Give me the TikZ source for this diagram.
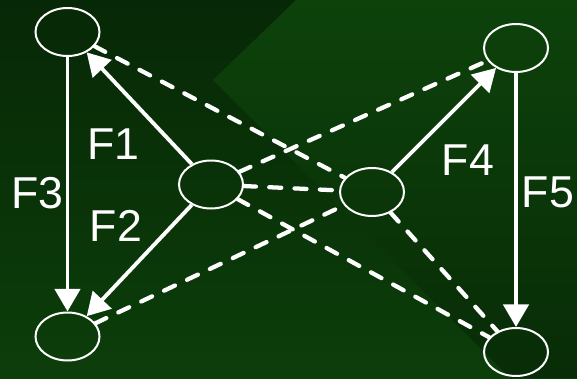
\documentclass[tikz,border=0pt]{standalone}
\usepackage{fontspec}
\setmainfont{Liberation Sans}
\usetikzlibrary{arrows.meta,shapes.geometric}
\definecolor{bgtopleft}{RGB}{7,40,6}
\definecolor{bgbotleft}{RGB}{12,62,10}
\definecolor{bgtopright}{RGB}{13,66,11}
\definecolor{bgbotright}{RGB}{8,44,7}
\begin{document}
\begin{tikzpicture}[x=0.75pt,y=-0.75pt,
    state/.style={draw=white, line width=1.5pt, ellipse, minimum width=48pt, minimum height=36pt, inner sep=0pt},
    flow/.style={draw=white, line width=2.9pt, -{Triangle[width=19pt,length=17pt]}},
    link/.style={draw=white, line width=3.2pt, dash pattern=on 9pt off 10pt, line cap=round},
    lbl/.style={text=white, font=\fontsize{33.5}{40}\selectfont, inner sep=0pt}]
				\useasboundingbox (0,0) rectangle (577,378);
				\shade[top color=bgtopleft, bottom color=bgbotleft] (0,0) rectangle (577,378);
				\shade[top color=bgtopright, bottom color=bgbotright] (213,80)--(296,0)--(577,0)--(577,378)--(510,378)--cycle;

				\node[state] (tl) at (67.5,32) {};
				\node[state] (tr) at (516,48) {};
				\node[state] (cl) at (211,184.5) {};
				\node[state] (cr) at (372,192) {};
				\node[state] (bl) at (67.5,336.5) {};
				\node[state] (br) at (516,352) {};

				\draw[link] (tl)--(cr);
				\draw[link] (cl)--(tr);
				\draw[link] (cl)--(cr);
				\draw[link] (cl)--(br);
				\draw[link] (bl)--(cr);
				\draw[link] (cr)--(br);

				\draw[flow] (cl)--(tl);
				\draw[flow] (cl)--(bl);
				\draw[flow] (tl)--(bl);
				\draw[flow] (cr)--(tr);
				\draw[flow] (tr)--(br);

				\node[lbl] (f1) at (113.5,144) {F1};
				\node[lbl] (f2) at (116,226) {F2};
				\node[lbl] (f3) at (37.5,193) {F3};
				\node[lbl] (f4) at (468,160) {F4};
				\node[lbl] (f5) at (548,192) {F5};
				\end{tikzpicture}
\end{document}
